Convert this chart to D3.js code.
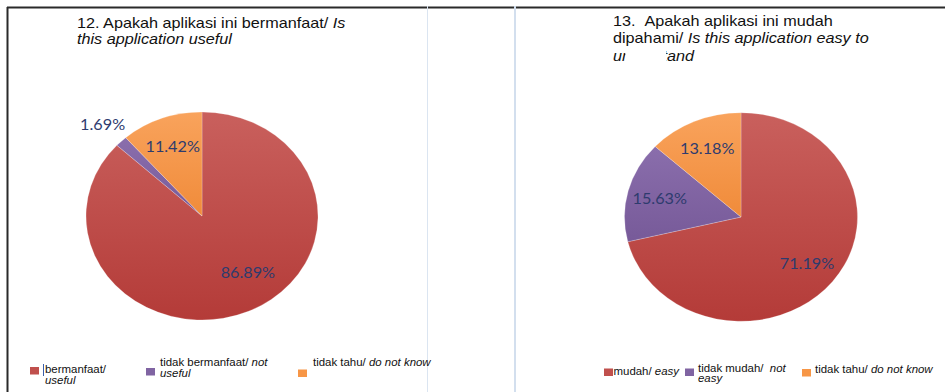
<!DOCTYPE html>
<html>
<head>
<meta charset="utf-8">
<script src="https://cdn.jsdelivr.net/npm/d3@7/dist/d3.min.js"></script>
<style>
  html, body { margin: 0; padding: 0; background: #fff; }
  svg { display: block; }
</style>
</head>
<body>
<svg id="chart" width="945" height="392"></svg>
<script>
// Survey question 12: is the application useful
const q12Categories = ["bermanfaat/ useful", "tidak bermanfaat/ not useful", "tidak tahu/ do not know"];
const q12Values = [86.89, 1.69, 11.42];

// Survey question 13: is the application easy to understand
const q13Categories = ["mudah/ easy", "tidak mudah/ not easy", "tidak tahu/ do not know"];
const q13Values = [71.19, 15.63, 13.18];

const sliceColors = ["#c0504d", "#8064a2", "#f79646"];
const sliceLight = ["#c9605d", "#8a6eac", "#f9a35c"];
const sliceDark = ["#b43b38", "#775a99", "#f08b3a"];

const svg = d3.select("#chart");
const W = 945, H = 392;
const NB = "\u00a0";

// gradients for each slice colour
const defs = svg.append("defs");
sliceColors.forEach((c, i) => {
  const g = defs.append("linearGradient")
    .attr("id", "grad" + i)
    .attr("x1", 0).attr("y1", 0).attr("x2", 0).attr("y2", 1)
    .attr("gradientUnits", "objectBoundingBox");
  g.append("stop").attr("offset", "0%").attr("stop-color", sliceLight[i]);
  g.append("stop").attr("offset", "100%").attr("stop-color", sliceDark[i]);
});

// page frame and panel dividers
svg.append("line").attr("x1", 7).attr("x2", W).attr("y1", 7.5).attr("y2", 7.5)
  .attr("stroke", "#2a2a2a").attr("stroke-width", 2);
svg.append("line").attr("x1", 7.5).attr("x2", 7.5).attr("y1", 7).attr("y2", H)
  .attr("stroke", "#2a2a2a").attr("stroke-width", 2);
svg.append("line").attr("x1", 427.5).attr("x2", 427.5).attr("y1", 6).attr("y2", H)
  .attr("stroke", "#dbe5f1").attr("stroke-width", 1);
svg.append("line").attr("x1", 515).attr("x2", 515).attr("y1", 6).attr("y2", H)
  .attr("stroke", "#d3dfee").attr("stroke-width", 2);

const titleFont = "'Liberation Sans', Arial, sans-serif";
const stretch = 1.08;   // the whole sheet is drawn slightly wide

function drawTitle(x, y0, lineGap, lines) {
  const g = svg.append("g").attr("transform", `translate(${x},${y0}) scale(${stretch},1)`);
  const nodes = [];
  lines.forEach((parts, li) => {
    const t = g.append("text")
      .attr("x", 0).attr("y", li * lineGap)
      .attr("font-family", titleFont).attr("font-size", 15).attr("fill", "#111");
    parts.forEach(p => {
      t.append("tspan").attr("font-style", p.italic ? "italic" : "normal").text(p.text);
    });
    nodes.push(t);
  });
  return { g, nodes };
}

drawTitle(77, 28, 16, [
  [{ text: "12. Apakah aplikasi ini bermanfaat/ " }, { text: "Is", italic: true }],
  [{ text: "this application useful", italic: true }]
]);

const t13 = drawTitle(613, 26, 17.5, [
  [{ text: "13." + NB + NB + "Apakah aplikasi ini mudah" }],
  [{ text: "dipahami/ " }, { text: "Is this application easy to", italic: true }],
  [{ text: "understand", italic: true }]
]);
// the third title line is partly hidden behind a blank patch
{
  const node = t13.nodes[2].node();
  const xa = node.getStartPositionOfChar(1).x + 3.2;
  const xb = node.getStartPositionOfChar(6).x + 3.4;
  t13.g.append("rect").attr("x", xa).attr("y", 2 * 17.5 - 14).attr("width", xb - xa).attr("height", 19)
    .attr("fill", "#fff");
}

function drawPie(values, cx, cy, rx, ry, opts) {
  const pie = d3.pie().sort(null).value(d => d).startAngle(0).endAngle(2 * Math.PI);
  const arcs = pie(values);
  const arc = d3.arc().innerRadius(0).outerRadius(ry);
  const sx = rx / ry;
  const g = svg.append("g").attr("transform", `translate(${cx},${cy}) scale(${sx},1)`);
  g.selectAll("path").data(arcs).join("path")
    .attr("d", arc)
    .attr("fill", (d, i) => `url(#grad${i})`)
    .attr("stroke", "rgba(255,255,255,0.35)")
    .attr("stroke-width", 0.6);

  const lg = svg.append("g").attr("transform", `translate(${cx},${cy})`);
  arcs.forEach((a, i) => {
    const frac = (a.endAngle - a.startAngle) / (2 * Math.PI);
    let ang = (a.startAngle + a.endAngle) / 2;
    let rr = 0.72 * ry;
    if (frac < 0.05) rr = 1.23 * ry;               // tiny slice: label outside
    if (opts.bigShift && frac > 0.8) { ang -= 0.22; rr = 0.67 * ry; } // best-fit for dominant slice
    const x = Math.sin(ang) * rr * sx;
    const y = -Math.cos(ang) * rr;
    lg.append("text")
      .attr("transform", `translate(${x},${y}) scale(1.08,1)`)
      .attr("text-anchor", "middle").attr("dominant-baseline", "central")
      .attr("font-family", "Lato, 'Open Sans', sans-serif")
      .attr("font-size", 15)
      .attr("fill", "#2e3b6e")
      .text(d3.format(".2f")(values[i]) + "%");
  });
}

drawPie(q12Values, 202, 216, 116, 104, { bigShift: true });
drawPie(q13Values, 741, 217, 116.5, 104.3, {});

// legends
function legendItem(sqX, sqY, tx, ty, colorIdx, lines) {
  svg.append("rect").attr("x", sqX).attr("y", sqY).attr("width", 9).attr("height", 7.5)
    .attr("fill", sliceColors[colorIdx]);
  const g = svg.append("g").attr("transform", `translate(${tx},${ty}) scale(1.04,1)`);
  lines.forEach((parts, li) => {
    const t = g.append("text")
      .attr("x", 0).attr("y", li * 11)
      .attr("font-family", titleFont).attr("font-size", 11).attr("fill", "#111");
    parts.forEach(p => t.append("tspan").attr("font-style", p.italic ? "italic" : "normal").text(p.text));
  });
}

function splitLabel(label) {
  const k = label.indexOf("/ ");
  return { plain: label.slice(0, k + 1), eng: label.slice(k + 2) };
}

// question 12 legend
let s = splitLabel(q12Categories[0]);
legendItem(30, 367, 45, 373, 0, [[{ text: s.plain }], [{ text: s.eng, italic: true }]]);
svg.append("line").attr("x1", 43.5).attr("x2", 43.5).attr("y1", 364).attr("y2", 376)
  .attr("stroke", "#3b5ea8").attr("stroke-width", 1);
s = splitLabel(q12Categories[1]);
legendItem(146, 368, 160, 366, 1, [[{ text: s.plain + " " }, { text: "not", italic: true }], [{ text: "useful", italic: true }]]);
s = splitLabel(q12Categories[2]);
legendItem(298, 369.5, 313, 366, 2, [[{ text: s.plain + " " }, { text: s.eng, italic: true }]]);

// question 13 legend
s = splitLabel(q13Categories[0]);
legendItem(604, 368.5, 613.5, 375, 0, [[{ text: s.plain + " " }, { text: s.eng, italic: true }]]);
s = splitLabel(q13Categories[1]);
legendItem(685, 368.5, 698, 371.5, 1, [[{ text: s.plain + NB + NB }, { text: "not", italic: true }], [{ text: "easy", italic: true }]]);
s = splitLabel(q13Categories[2]);
legendItem(802, 369, 815, 372.5, 2, [[{ text: s.plain + " " }, { text: s.eng, italic: true }]]);
</script>
</body>
</html>
